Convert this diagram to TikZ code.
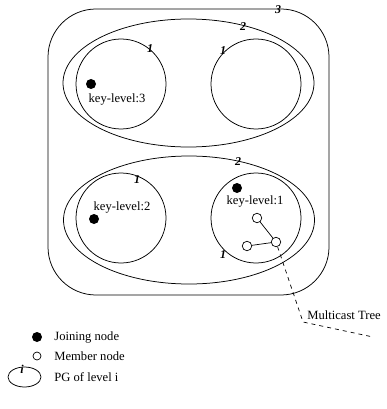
\documentclass[tikz,border=0pt]{standalone}
\usepackage{fontspec}
\setmainfont{Liberation Serif}
\usetikzlibrary{shapes.geometric}
\begin{document}
\begin{tikzpicture}[x=1pt,y=-1pt,line width=0.75pt,
  pg/.style={draw,ellipse,inner sep=0pt},
  pgone/.style={draw,circle,inner sep=0pt,minimum size=90pt},
  joinnode/.style={circle,fill=black,inner sep=0pt,minimum size=10pt},
  membernode/.style={circle,draw,fill=white,inner sep=0pt,minimum size=9.5pt,line width=0.7pt},
  lvl/.style={font=\fontsize{12}{12}\selectfont\bfseries\itshape,inner sep=0pt},
  txt/.style={font=\fontsize{12.6}{14}\selectfont,inner sep=0pt}]
\useasboundingbox (0,0) rectangle (386,409);

% level-3 group
\node[draw,rectangle,rounded corners=48pt,minimum width=281pt,minimum height=286pt,inner sep=0pt] (g3) at (188.5,152) {};
\node[lvl] (l3) at (278,10) {3};

% upper level-2 group
\node[pg,minimum width=251pt,minimum height=128pt] (g2a) at (188.5,83) {};
\node[lvl] (l2a) at (243,27) {2};
\node[pgone] (c1) at (121,84) {};
\node[lvl] (l1a) at (150,49) {1};
\node[pgone] (c2) at (256,84) {};
\node[lvl] (l1b) at (223,51) {1};
\node[joinnode] (j3) at (91,84) {};
\node[txt] (k3) at (117,99) {key-level:3};

% lower level-2 group
\node[pg,minimum width=251pt,minimum height=128pt] (g2b) at (189,220) {};
\node[lvl] (l2b) at (238,162) {2};
\node[pgone] (c3) at (121,218) {};
\node[lvl] (l1c) at (137,180) {1};
\node[pgone] (c4) at (256,218) {};
\node[lvl] (l1d) at (223,255) {1};
\node[joinnode] (j2) at (94,219) {};
\node[txt] (k2) at (122,207) {key-level:2};
\node[joinnode] (j1) at (237,188) {};
\node[txt] (k1) at (255,201) {key-level:1};

% members and multicast tree
\node[membernode] (m1) at (257,218) {};
\node[membernode] (m2) at (276,242) {};
\node[membernode] (m3) at (247,246) {};
\draw[line width=0.7pt] (m1) -- (m2) -- (m3);
\coordinate (bend) at (303,322);
\coordinate (tail) at (373,337);
\draw[dashed,line width=0.7pt,dash pattern=on 4pt off 4pt] (m2) -- (bend) -- (tail);
\node[txt,anchor=west] (mt) at (307,315) {Multicast Tree};

% legend
\node[joinnode] (lj) at (37,337) {};
\node[txt,anchor=west] (ljt) at (54,337) {Joining node};
\node[membernode,minimum size=8pt] (lm) at (37,356) {};
\node[txt,anchor=west] (lmt) at (54,356) {Member node};
\node[pg,minimum width=33pt,minimum height=20pt] (le) at (24.5,377) {};
\node[lvl] (li) at (22,369) {i};
\node[txt,anchor=west] (let) at (54,377) {PG of level i};
\end{tikzpicture}
\end{document}
